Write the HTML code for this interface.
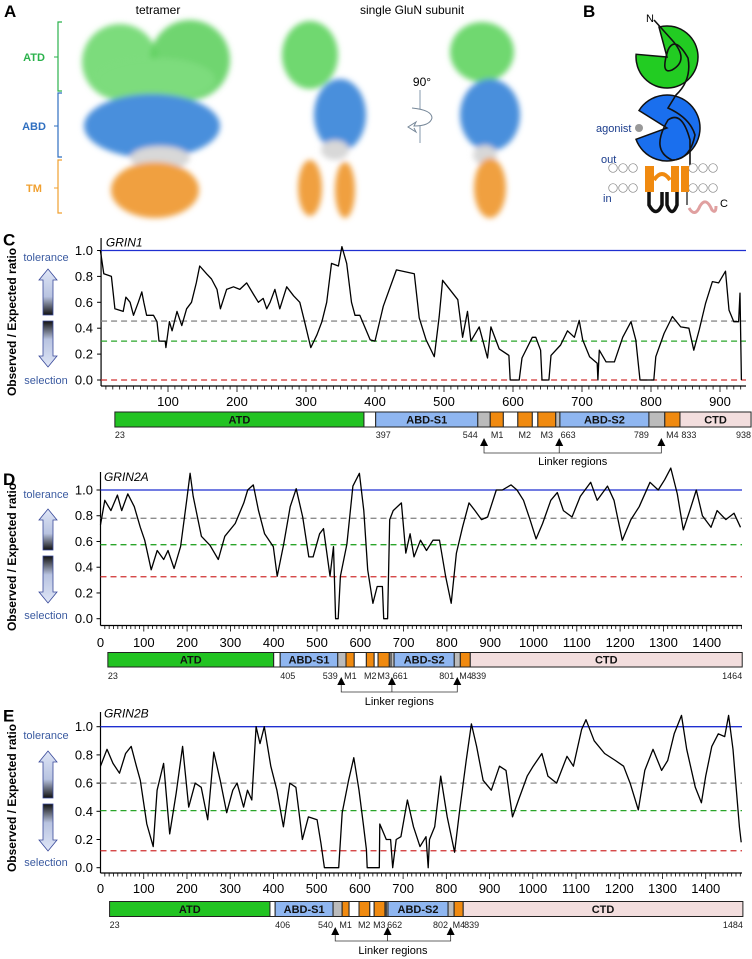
<!DOCTYPE html>
<html><head><meta charset="utf-8"><style>
html,body{margin:0;padding:0;background:#fff;}
svg{display:block;font-family:"Liberation Sans",sans-serif;}
</style></head><body>
<svg id="fig" width="752" height="959" viewBox="0 0 752 959" xmlns="http://www.w3.org/2000/svg">
<defs>
<filter id="blur" x="-20%" y="-20%" width="140%" height="140%"><feGaussianBlur stdDeviation="3"/></filter>
<linearGradient id="gUp" x1="0" y1="0" x2="0" y2="1"><stop offset="0" stop-color="#dfe6f7"/><stop offset="0.6" stop-color="#b8c3e0"/><stop offset="1" stop-color="#111"/></linearGradient>
<linearGradient id="gDn" x1="0" y1="0" x2="0" y2="1"><stop offset="0" stop-color="#111"/><stop offset="0.4" stop-color="#b8c3e0"/><stop offset="1" stop-color="#dfe6f7"/></linearGradient>
</defs>

<!-- Panel A -->
<g>
<text x="4" y="17" font-size="17" font-weight="bold">A</text>
<text x="158" y="14" font-size="12" text-anchor="middle">tetramer</text>
<text x="412" y="14" font-size="12" text-anchor="middle">single GluN subunit</text>
<path d="M62,22 H58 V91 H62" fill="none" stroke="#2bb24c" stroke-width="1.2"/>
<path d="M62,93 H58 V157 H62" fill="none" stroke="#2f6fc0" stroke-width="1.2"/>
<path d="M62,160 H58 V213 H62" fill="none" stroke="#f0a030" stroke-width="1.2"/>
<line x1="54" y1="57" x2="58" y2="57" stroke="#2bb24c"/><line x1="54" y1="126" x2="58" y2="126" stroke="#2f6fc0"/><line x1="54" y1="188" x2="58" y2="188" stroke="#f0a030"/>
<text x="34" y="61" font-size="11" font-weight="bold" fill="#2bb24c" text-anchor="middle">ATD</text>
<text x="34" y="130" font-size="11" font-weight="bold" fill="#2f6fc0" text-anchor="middle">ABD</text>
<text x="34" y="192" font-size="11" font-weight="bold" fill="#f0a030" text-anchor="middle">TM</text>
<g filter="url(#blur)">
<ellipse cx="120" cy="62" rx="38" ry="38" fill="#6fd86f" opacity="0.9"/>
<ellipse cx="190" cy="60" rx="40" ry="40" fill="#5fd05f" opacity="0.9"/>
<ellipse cx="155" cy="80" rx="60" ry="22" fill="#7ddc7d"/>
<ellipse cx="152" cy="126" rx="68" ry="32" fill="#4a8fdc"/>
<ellipse cx="160" cy="158" rx="30" ry="12" fill="#d8d8d8"/>
<ellipse cx="155" cy="190" rx="44" ry="28" fill="#f0a040"/>
</g>
<g filter="url(#blur)">
<ellipse cx="310" cy="55" rx="28" ry="34" fill="#6fd86f"/>
<ellipse cx="340" cy="115" rx="26" ry="36" fill="#4a8fdc"/>
<ellipse cx="335" cy="150" rx="14" ry="10" fill="#d8d8d8"/>
<ellipse cx="310" cy="188" rx="12" ry="28" fill="#f0a040"/>
<ellipse cx="345" cy="190" rx="10" ry="28" fill="#f0a040"/>
</g>
<g filter="url(#blur)">
<ellipse cx="482" cy="52" rx="32" ry="30" fill="#6fd86f"/>
<ellipse cx="490" cy="115" rx="30" ry="36" fill="#4a8fdc"/>
<ellipse cx="485" cy="155" rx="12" ry="10" fill="#d8d8d8"/>
<ellipse cx="490" cy="188" rx="16" ry="30" fill="#f0a040"/>
</g>
<text x="422" y="86" font-size="12" text-anchor="middle">90°</text>
<line x1="420" y1="90" x2="420" y2="143" stroke="#9ab" stroke-width="1.2"/>
<path d="M412,108 Q432,110 432,118 Q430,126 414,126 L416,122 L408,127 L416,132 L414,128" fill="#fff" stroke="#789" stroke-width="1"/>
</g>

<!-- Panel B -->
<g>
<text x="583" y="17" font-size="17" font-weight="bold">B</text>
<text x="646" y="22" font-size="11">N</text>
<path id="greenPac" fill="#22cc22" stroke="#111" stroke-width="1.5"/>
<path id="bluePac" fill="#1a6fee" stroke="#111" stroke-width="1.5"/>
<path d="M654,20 L672,40 Q690,60 672,70 Q660,75 668,50 Q675,35 688,58 Q692,80 676,95 L668,108 Q690,118 695,135 Q690,160 672,160 Q650,150 668,120 Q682,110 690,140 L690,165" fill="none" stroke="#111" stroke-width="1.6"/>
<text x="596" y="132" font-size="11" fill="#1a3c8c">agonist</text>
<circle cx="639" cy="128" r="4" fill="#999"/>
<text x="601" y="163" font-size="11" fill="#1a3c8c">out</text>
<text x="603" y="202" font-size="11" fill="#1a3c8c">in</text>
<g id="membrane"></g>
<g>
<rect x="645" y="166" width="9" height="26" fill="#f08a10"/>
<path d="M654,180 Q662,168 670,180" fill="none" stroke="#f08a10" stroke-width="4"/>
<rect x="671" y="166" width="8" height="26" fill="#f08a10"/>
<rect x="681" y="166" width="8" height="26" fill="#f08a10"/>
<path d="M649,192 V205 Q656,218 662,205 V192 M667,192 V205 Q672,218 677,205 V192" fill="none" stroke="#111" stroke-width="3.5"/>
<line x1="687" y1="192" x2="687" y2="205" stroke="#111" stroke-width="1.2"/>
<path d="M689,208 Q695,218 700,206 Q706,196 712,210 Q716,214 716,206" fill="none" stroke="#e0a0a0" stroke-width="3"/>
</g>
<text x="720" y="207" font-size="11">C</text>
</g>

<g id="charts"></g>
</svg>
<script>
// ---------- data: GRIN1 (panel C) ----------
const resC=[2,7,18,23,35,39,45,50,57,62,65,69,79,84,87,96,97,102,106,113,120,127,134,141,146,156,163,171,176,185,195,204,214,224,231,238,243,248,255,262,272,282,291,298,307,316,323,330,337,347,352,359,366,371,378,386,393,400,412,431,457,464,474,486,493,498,520,527,534,539,551,563,568,580,594,596,609,613,628,633,640,642,652,655,669,679,689,696,701,711,722,723,725,735,747,759,771,778,784,804,807,819,831,843,855,862,870,879,889,898,908,913,920,927,929,931];
const valC=[1.0,0.82,0.8,0.55,0.53,0.64,0.6,0.5,0.6,0.68,0.6,0.5,0.5,0.45,0.3,0.3,0.25,0.45,0.38,0.53,0.42,0.55,0.6,0.75,0.88,0.82,0.78,0.7,0.55,0.7,0.72,0.7,0.75,0.66,0.6,0.63,0.55,0.6,0.7,0.55,0.72,0.65,0.6,0.45,0.25,0.35,0.45,0.6,0.9,0.88,1.03,0.9,0.6,0.5,0.5,0.4,0.31,0.3,0.57,0.85,0.82,0.48,0.31,0.18,0.49,0.77,0.62,0.33,0.53,0.3,0.41,0.17,0.41,0.24,0.19,0,0,0.17,0.33,0.33,0.23,0,0,0.19,0.27,0.38,0.33,0.46,0.31,0.18,0.13,0,0.23,0.14,0.14,0.33,0.45,0.31,0,0,0.18,0.36,0.49,0.41,0.4,0.23,0.39,0.59,0.76,0.75,0.84,0.54,0.45,0.45,0.67,0];
// ---------- data: GRIN2A (panel D) ----------
const resD=[0,10,24,39,49,63,78,92,102,117,131,146,156,170,185,199,207,214,233,253,272,287,311,331,340,353,365,379,399,408,423,438,452,467,481,491,506,515,530,538,543,549,554,569,583,598,608,617,629,639,651,654,663,668,676,695,705,715,724,739,753,768,783,797,810,822,836,851,865,880,894,914,928,948,962,977,992,1006,1021,1040,1055,1069,1089,1108,1132,1147,1171,1186,1205,1225,1244,1269,1288,1303,1317,1332,1346,1361,1376,1390,1410,1424,1444,1463,1478];
const valD=[0.73,0.92,0.84,0.96,0.84,0.97,0.87,0.71,0.61,0.38,0.53,0.46,0.53,0.39,0.56,0.92,1.13,0.95,0.64,0.57,0.46,0.64,0.74,0.9,1.0,1.04,0.84,0.66,0.56,0.33,0.58,0.87,1.01,0.79,0.48,0.48,0.66,0.7,0.33,0.56,0,0,0.33,0.58,1.03,1.13,0.84,0.38,0.12,0.25,0.25,0,0,0.77,0.84,0.9,0.51,0.66,0.48,0.61,0.53,0.61,0.61,0.33,0.12,0.51,0.71,0.9,0.84,0.77,0.79,1.0,1.0,1.04,1.0,0.92,0.77,0.62,0.74,0.92,0.98,0.84,0.79,0.95,1.06,0.92,1.03,0.92,0.61,0.77,0.87,1.06,1.0,1.08,1.17,0.97,0.69,0.84,1.0,0.8,0.71,0.84,0.77,0.82,0.71];
// ---------- data: GRIN2B (panel E) ----------
const resE=[0,15,29,44,58,71,83,92,107,122,131,146,160,175,190,204,219,233,248,262,277,292,306,316,331,340,350,360,369,379,394,408,423,438,452,467,481,501,510,518,551,559,574,586,598,608,615,617,645,646,661,671,676,684,695,710,724,739,753,758,761,773,787,802,819,831,846,858,870,885,904,923,938,953,967,987,1001,1021,1035,1055,1079,1094,1113,1123,1142,1166,1191,1210,1225,1244,1259,1278,1298,1312,1327,1344,1356,1376,1390,1400,1414,1429,1444,1453,1463,1478,1482];
const valE=[0.72,0.84,0.74,0.67,0.81,0.86,0.72,0.62,0.31,0.15,0.55,0.74,0.24,0.53,0.86,0.43,0.6,0.57,0.34,0.82,0.62,0.39,0.55,0.6,0.43,0.55,0.48,1.0,0.88,1.0,0.72,0.55,0.29,0.6,0.57,0.2,0.36,0.34,0.17,0,0,0.39,0.62,0.78,0.55,0.31,0.13,0,0,0.31,0.2,0.2,0,0.2,0.22,0.48,0.29,0.15,0.22,0,0.2,0.29,0.65,0.36,0.11,0.41,0.76,1.02,0.86,0.62,0.55,0.72,0.69,0.36,0.48,0.65,0.72,0.81,0.65,0.6,0.79,0.72,0.98,1.05,0.9,0.81,0.76,0.72,0.6,0.41,0.69,0.84,0.69,0.76,0.95,1.08,0.84,0.57,0.46,0.65,0.86,0.95,0.93,1.08,0.84,0.29,0.18];
// ---------- reference lines ----------
const refC=[1.0,0.455,0.30,0.0];
const refD=[1.0,0.78,0.575,0.326];
const refE=[1.0,0.6,0.405,0.12];
const refColors=['#1f2fd0','#8c8c8c','#2aa52a','#d03030'];
const yTicks=[0,0.2,0.4,0.6,0.8,1.0];
const xTicksC=[100,200,300,400,500,600,700,800,900];
const xTicksD=[0,100,200,300,400,500,600,700,800,900,1000,1100,1200,1300,1400];
// ---------- domain schematics ----------
const domNames=['ATD','','ABD-S1','','M1','','M2','','M3','','ABD-S2','','M4','CTD'];
const domTypes=['atd','gap','abd','link','tm','gap','tm','gap','tm','link','abd','link','tm','ctd'];
const domC=[23,384,401,549,567,586,607,628,636,662,668,797,820,842,945];
const domD=[17,400,415,548,567,586,614,632,641,667,671,678,817,831,854,1482];
const domE=[21,392,404,538,559,575,598,623,633,658,661,665,804,818,839,1486];
const labC=[['23',23,'start'],['397',401,'start'],['544',549,'end'],['M1',577,'middle'],['M2',617,'middle'],['M3',649,'middle'],['663',669,'start'],['789',797,'end'],['M4',831,'middle'],['833',844,'start'],['938',945,'end']];
const labD=[['23',17,'start'],['405',415,'start'],['539',548,'end'],['M1',577,'middle'],['M2',623,'middle'],['M3',654,'middle'],['661',675,'start'],['801',817,'end'],['M4',843,'middle'],['839',856,'start'],['1464',1482,'end']];
const labE=[['23',21,'start'],['406',404,'start'],['540',538,'end'],['M1',567,'middle'],['M2',610,'middle'],['M3',645,'middle'],['662',663,'start'],['802',804,'end'],['M4',829,'middle'],['839',841,'start'],['1484',1486,'end']];
const arrC=[558,667,815];
const arrD=[556,673,824];
const arrE=[543,664,810];

const NS='http://www.w3.org/2000/svg';
function mk(parent,tag,attrs,txt){const e=document.createElementNS(NS,tag);for(const k in attrs)e.setAttribute(k,attrs[k]);if(txt!==undefined)e.textContent=txt;parent.appendChild(e);return e;}

function pac(cx,cy,r,a1,a2){const p=a=>[cx+r*Math.cos(a*Math.PI/180),cy+r*Math.sin(a*Math.PI/180)];const s=p(a2),e=p(a1);return `M${cx},${cy} L${s[0]},${s[1]} A${r},${r} 0 1 1 ${e[0]},${e[1]} Z`;}
document.getElementById('greenPac').setAttribute('d',pac(667,57,31,185,255));
document.getElementById('bluePac').setAttribute('d',pac(667,128,33,160,212));
const mem=document.getElementById('membrane');
for(let i=0;i<11;i++){for(const cy of [168,188]){const x=613+i*10;if(x>640&&x<692)continue;
const c=mk(mem,'circle',{cx:x,cy:cy,r:4.3,fill:'#fff',stroke:'#888','stroke-width':0.7});

}}

const fills={atd:'#22c322',abd:'#8fb6f0',tm:'#f08a10',ctd:'#f3dede',gap:'#fff',link:'#bbb'};
const panels=[
 {id:'c',letter:'C',gene:'GRIN1',res:resC,val:valC,ref:refC,x0:99,kx:0.69,y1:250.5,y0:380,axTop:238,axBot:386,xEnd:746,xMax:938,xt:xTicksC,tickLabY:406,dom:domC,lab:labC,arr:arrC,barY:412,barH:15,labY:438,arrY:441,linkY:453,linkTextY:465,tolY:261,upA:[269,315],dnA:[321,367],selY:384,titleY:322},
 {id:'d',letter:'D',gene:'GRIN2A',res:resD,val:valD,ref:refD,x0:100.5,kx:0.433,y1:490,y0:618.7,axTop:472,axBot:625.5,xEnd:742,xMax:1480,xt:xTicksD,tickLabY:647,dom:domD,lab:labD,arr:arrD,barY:652.5,barH:14.5,labY:679,arrY:680,linkY:692,linkTextY:705,tolY:498,upA:[509,550],dnA:[556,603],selY:619,titleY:557},
 {id:'e',letter:'E',gene:'GRIN2B',res:resE,val:valE,ref:refE,x0:100.5,kx:0.4323,y1:726.7,y0:867.7,axTop:712,axBot:873,xEnd:742,xMax:1484,xt:xTicksD,tickLabY:893,dom:domE,lab:labE,arr:arrE,barY:901.5,barH:15,labY:928,arrY:930,linkY:941,linkTextY:954,tolY:739,upA:[751,798],dnA:[804,851],selY:866,titleY:798}
];
const root=document.getElementById('charts');
panels.forEach(P=>{
 const X=v=>P.x0+P.kx*v, Y=v=>P.y0-(P.y0-P.y1)*v;
 const g=mk(root,'g',{});
 
 
 const L=mk(g,'text',{x:3,y:Y(1)-5,'font-size':17,'font-weight':'bold'},P.letter);
 
 
 const yt=mk(g,'text',{x:0,y:0,'font-size':12,'font-weight':'bold','text-anchor':'middle',transform:`translate(16,${P.titleY}) rotate(-90)`},'Observed / Expected ratio');
 
 
 const tol=mk(g,'text',{x:46,y:P.tolY,'font-size':11,fill:'#3a5aa0','text-anchor':'middle'},'tolerance');
 
 
 const sel=mk(g,'text',{x:46,y:P.selY,'font-size':11,fill:'#3a5aa0','text-anchor':'middle'},'selection');
 
 
 const [a,b]=P.upA, [c,d]=P.dnA, cx=48;
 const up=mk(g,'path',{d:`M${cx},${a} L${cx+9},${a+11} H${cx+5} V${b} H${cx-5} V${a+11} H${cx-9} Z`,fill:'url(#gUp)',stroke:'#3a4a9a','stroke-width':0.8});
 
 
 const dn=mk(g,'path',{d:`M${cx},${d} L${cx+9},${d-11} H${cx+5} V${c} H${cx-5} V${d-11} H${cx-9} Z`,fill:'url(#gDn)',stroke:'#3a4a9a','stroke-width':0.8});
 
 
 const ax0=X(P.id==='c'?3:0);
 const ya=mk(g,'line',{x1:ax0,y1:P.axTop,x2:ax0,y2:P.axBot,stroke:'#000','stroke-width':1.2});
 
 
 const xa=mk(g,'line',{x1:ax0,y1:P.axBot,x2:P.xEnd,y2:P.axBot,stroke:'#000','stroke-width':1.2});
 
 
 yTicks.forEach(t=>{
  mk(g,'line',{x1:ax0-4,y1:Y(t),x2:ax0,y2:Y(t),stroke:'#000'});
  const tl=mk(g,'text',{x:93,y:Y(t)+4.5,'font-size':13,'text-anchor':'end'},t.toFixed(1));
  
  
 });
 for(let v=10;v<=P.xMax;v+=10){const big=v%100===0;mk(g,'line',{x1:X(v),y1:P.axBot,x2:X(v),y2:P.axBot+(big?6:3.5),stroke:'#000','stroke-width':0.8});}
 P.xt.forEach(t=>{
  const tl=mk(g,'text',{x:X(t),y:P.tickLabY,'font-size':13,'text-anchor':'middle'},String(t));
  
  
 });
 P.ref.forEach((r,i)=>{
  const rl=mk(g,'line',{x1:ax0,y1:Y(r),x2:P.xEnd,y2:Y(r),stroke:refColors[i],'stroke-width':1.3,'stroke-dasharray':i===0?'none':'6,4'});
  
  
 });
 const pts=P.res.map((r,i)=>X(r).toFixed(1)+','+Y(P.val[i]).toFixed(1)).join(' ');
 const ln=mk(g,'polyline',{points:pts,fill:'none',stroke:'#000','stroke-width':1.3,'stroke-linejoin':'round'});
 
 
 const gn=mk(g,'text',{x:X(P.id==='c'?10:8),y:Y(1)-(P.id==='c'?4:9),'font-size':12,'font-style':'italic'},P.gene);
 
 
 const segs=[];
 for(let i=0;i<P.dom.length-1;i++){segs.push([P.dom[i],P.dom[i+1]]);}
 const types=P.dom.length===15?domTypes:['atd','gap','abd','link','tm','gap','tm','gap','tm','link','link','abd','link','tm','ctd'];
 const names=P.dom.length===15?domNames:['ATD','','ABD-S1','','M1','','M2','','M3','','','ABD-S2','','M4','CTD'];
 segs.forEach((s,i)=>{
  const r=mk(g,'rect',{x:X(s[0]),y:P.barY,width:X(s[1])-X(s[0]),height:P.barH,fill:fills[types[i]],stroke:'#222','stroke-width':1});
  
  
  if(names[i]&&types[i]!=='tm'){
   const t=mk(g,'text',{x:(X(s[0])+X(s[1]))/2,y:P.barY+P.barH-3.5,'font-size':11,'font-weight':'bold','text-anchor':'middle',fill:'#111'},names[i]);
   
   
  }
 });
 P.lab.forEach(l=>{
  const t=mk(g,'text',{x:X(l[1]),y:P.labY,'font-size':9,'text-anchor':l[2],fill:'#222'},l[0]);
  
  
 });
 const xs=P.arr.map(X);
 const br=mk(g,'path',{d:`M${xs[0]},${P.arrY+4} V${P.linkY} H${xs[2]} V${P.arrY+4} M${xs[1]},${P.arrY+4} V${P.linkY}`,fill:'none',stroke:'#333','stroke-width':0.8});
 
 
 xs.forEach(x=>{
  const ar=mk(g,'path',{d:`M${x},${P.arrY-3} L${x+4},${P.arrY+5} H${x-4} Z`,fill:'#000'});
  
  
 });
 const lt=mk(g,'text',{x:(xs[0]+xs[2])/2,y:P.linkTextY,'font-size':11,'text-anchor':'middle'},'Linker regions');
 
 
});
</script>
</body></html>
